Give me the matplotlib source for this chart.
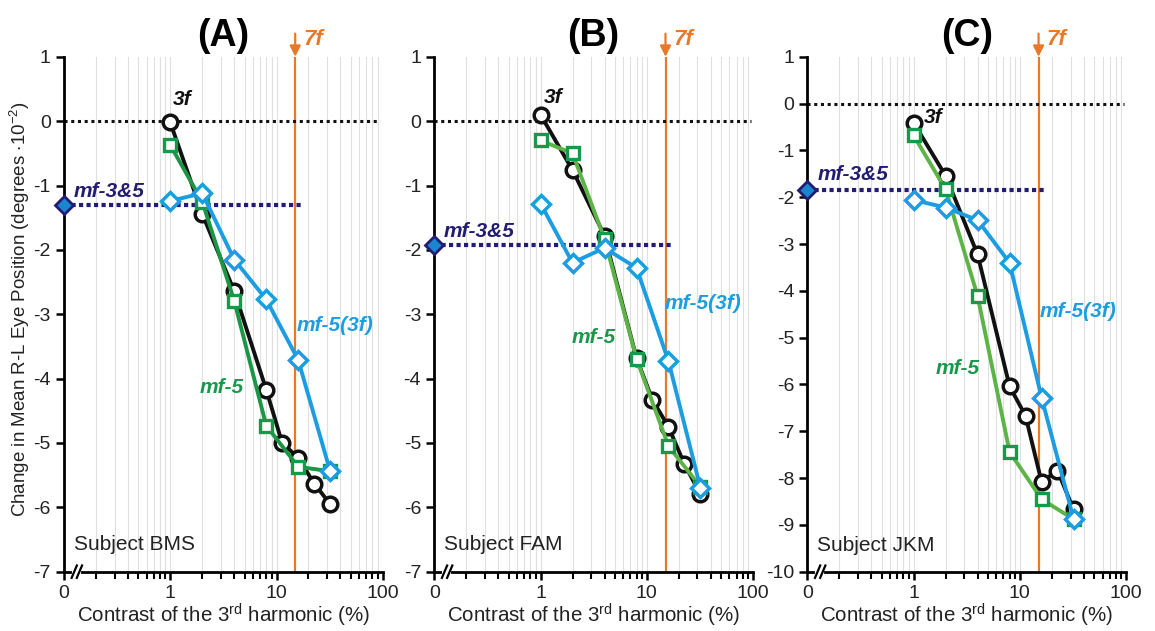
import numpy as np
import matplotlib.pyplot as plt
from matplotlib.transforms import blended_transform_factory

plt.rcParams['font.family'] = ['Liberation Sans', 'DejaVu Sans']
plt.rcParams['mathtext.fontset'] = 'custom'
plt.rcParams['mathtext.rm'] = 'Liberation Sans'
plt.rcParams['mathtext.it'] = 'Liberation Sans:italic'
plt.rcParams['mathtext.bf'] = 'Liberation Sans:bold'

# contrast levels (%) ; 0 is drawn at 0.1 on the log axis
x_3f = [1, 2, 4, 8, 11.3, 16, 22.6, 32]
x_mf = [1, 2, 4, 8, 16, 32]

panels = ['(A)', '(B)', '(C)']
subjects = ['Subject BMS', 'Subject FAM', 'Subject JKM']

# 3f (black circles)
y_3f_A = [-0.02, -1.44, -2.64, -4.17, -5.0, -5.23, -5.63, -5.95]
y_3f_B = [0.1, -0.76, -1.78, -3.68, -4.33, -4.75, -5.33, -5.8]
y_3f_C = [-0.41, -1.54, -3.22, -6.04, -6.67, -8.08, -7.84, -8.67]

# mf-5 (green squares)
y_mf5_A = [-0.37, -1.25, -2.79, -4.73, -5.37, -5.44]
y_mf5_B = [-0.3, -0.5, -1.83, -3.69, -5.05, -5.68]
y_mf5_C = [-0.68, -1.83, -4.11, -7.44, -8.45, -8.88]

# mf-5(3f) (blue diamonds)
y_mf53_A = [-1.24, -1.12, -2.15, -2.77, -3.71, -5.44]
y_mf53_B = [-1.28, -2.2, -1.97, -2.28, -3.73, -5.7]
y_mf53_C = [-2.06, -2.22, -2.49, -3.4, -6.28, -8.87]

# mf-3&5 (single value at contrast 0)
y_mf35 = [-1.31, -1.93, -1.85]

y_3f = [y_3f_A, y_3f_B, y_3f_C]
y_mf5 = [y_mf5_A, y_mf5_B, y_mf5_C]
y_mf53 = [y_mf53_A, y_mf53_B, y_mf53_C]
ymins = [-7, -7, -10]

x_7f = 15

c_black = '#111111'
c_green = '#17984a'
c_green_line = ['#1c9645', '#5cb447', '#5cb447']
c_blue = '#1c9de2'
c_navy = '#221c72'
c_orange = '#e8782a'

# label positions (data coords)
pos_3f = [(1.05, 0.33), (1.08, 0.36), (1.25, -0.3)]
pos_mf35 = [(0.123, -1.09), (0.122, -1.71), (0.124, -1.52)]
pos_mf53 = [(15.4, -3.18), (14.8, -2.83), (15.3, -4.44)]
pos_mf5 = [(1.9, -4.14), (1.98, -3.36), (1.62, -5.65)]
pos_subj = [-6.57, -6.57, -9.43]

fig = plt.figure(figsize=(11.55, 6.31), dpi=100)
lefts = [0.0554, 0.376, 0.699]

for i in range(3):
    ax = fig.add_axes([lefts[i], 0.094, 0.276, 0.816])
    ax.set_xscale('log')
    ax.set_xlim(0.1, 100)
    ax.set_ylim(ymins[i], 1)

    # light vertical grid
    minors = [m * d for d in [0.1, 1, 10] for m in range(2, 10)] + [1, 10]
    for g in minors:
        ax.axvline(g, color='#e0e0e0', lw=0.8, zorder=0)

    ax.set_xticks([0.1, 1, 10, 100])
    ax.set_xticklabels(['0', '1', '10', '100'])
    ax.set_xticks([m * d for d in [0.1, 1, 10] for m in range(2, 10)], minor=True)
    ax.set_yticks(np.arange(ymins[i], 2, 1))
    ax.set_yticklabels(['%d' % v for v in np.arange(ymins[i], 2, 1)])
    ax.tick_params(axis='both', which='major', labelsize=14, length=6, width=1.8, color='black',
                   labelcolor='#222222')
    ax.tick_params(axis='x', which='minor', length=5, width=1.5, labelbottom=False)
    for s in ['top', 'right']:
        ax.spines[s].set_visible(False)
    for s in ['left', 'bottom']:
        ax.spines[s].set_linewidth(2)

    # axis break marks
    tr = blended_transform_factory(ax.transData, ax.transAxes)
    ax.plot([0.123, 0.137], [0, 0], color='white', lw=3, transform=tr, clip_on=False, zorder=5)
    for bx in [0.118, 0.132]:
        ax.plot([bx, bx * 1.12], [-0.012, 0.012], color='black', lw=1.6, transform=tr,
                clip_on=False, zorder=6)

    # reference lines
    ax.plot([0.1, 95], [0, 0], color=c_black, lw=2.2, linestyle=(0, (1, 1.2)), zorder=2)
    ax.plot([0.1, 17], [y_mf35[i], y_mf35[i]], color=c_navy, lw=3, linestyle=(0, (1, 0.8)), zorder=2)
    ax.axvline(x_7f, color=c_orange, lw=1.6, zorder=1)
    ax.annotate('', xy=(x_7f, 1.0), xycoords=tr, xytext=(x_7f, 1.045), textcoords=tr,
                arrowprops=dict(arrowstyle='-|>', color=c_orange, lw=1.6, mutation_scale=16,
                                shrinkA=0, shrinkB=0), annotation_clip=False)
    ax.annotate('7f', xy=(x_7f, 1.033), xycoords=tr, xytext=(6, 0), textcoords='offset points',
                color=c_orange, fontsize=16, fontweight='bold', style='italic',
                va='center', ha='left', annotation_clip=False)

    # data
    ax.plot(x_3f, y_3f[i], color=c_black, lw=2.8, marker='o', ms=10.5, mfc='white',
            mec=c_black, mew=2.5, zorder=3)
    ax.plot(x_mf, y_mf5[i], color=c_green_line[i], lw=2.8, marker='s', ms=9, mfc='white',
            mec=c_green, mew=2.4, zorder=4)
    ax.plot(x_mf, y_mf53[i], color=c_blue, lw=2.8, marker='D', ms=9.5, mfc='white',
            mec=c_blue, mew=2.5, zorder=5)
    ax.plot([0.1], [y_mf35[i]], marker='D', ms=9, mfc='#1a86d0', mec=c_navy, mew=2,
            linestyle='none', clip_on=False, zorder=7)

    # labels
    ax.text(*pos_3f[i], '3f', color=c_black, fontsize=15, fontweight='bold', style='italic',
            va='center', ha='left')
    ax.text(*pos_mf35[i], 'mf-3&5', color=c_navy, fontsize=15, fontweight='bold',
            style='italic', va='center', ha='left')
    ax.text(*pos_mf53[i], 'mf-5(3f)', color=c_blue, fontsize=15, fontweight='bold',
            style='italic', va='center', ha='left')
    ax.text(*pos_mf5[i], 'mf-5', color=c_green, fontsize=15, fontweight='bold',
            style='italic', va='center', ha='left')
    ax.text(0.123, pos_subj[i], subjects[i], color='#222222', fontsize=15, va='center', ha='left')

    ax.set_title(panels[i], fontsize=27, fontweight='bold', pad=8)
    ax.set_xlabel('Contrast of the 3$^{\\mathregular{rd}}$ harmonic (%)', fontsize=14.8,
                  labelpad=0, color='#222222')
    if i == 0:
        ax.set_ylabel('Change in Mean R-L Eye Position (degrees $\\bullet$10$^{\\mathregular{-2}}$)',
                      fontsize=13.5, color='#222222')
        ax.yaxis.set_label_coords(-0.10, 0.51)

fig.savefig('out.png', dpi=100)
